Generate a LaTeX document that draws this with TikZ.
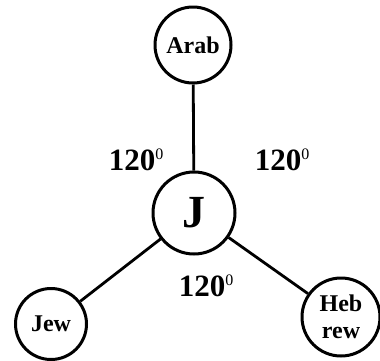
\documentclass[tikz,border=0pt]{standalone}
\usepackage{fontspec}
\setmainfont{Liberation Serif}
\newcommand{\degz}{\raisebox{11pt}{\fontsize{16}{16}\selectfont\mdseries 0}}
\begin{document}
\begin{tikzpicture}[x=1pt,y=-1pt,
  bub/.style={draw,circle,line width=3pt,fill=white,inner sep=0pt,font=\bfseries},
  link/.style={line width=2.8pt},
  ang/.style={font=\fontsize{31}{31}\selectfont\bfseries}]
\useasboundingbox (0,0) rectangle (380,360);
\node[bub,minimum size=76pt,font=\fontsize{24}{24}\selectfont\bfseries] (arab) at (193,45) {Arab};
\node[bub,minimum size=82pt,font=\fontsize{46}{46}\selectfont\bfseries] (j) at (194,213) {J};
\node[bub,minimum size=71pt,font=\fontsize{24}{24}\selectfont\bfseries] (jew) at (51,324) {Jew};
\node[bub,minimum size=78pt,align=center,font=\fontsize{24}{27}\selectfont\bfseries] (heb) at (341,317) {Heb\\rew};
\draw[link] (j) -- (arab);
\draw[link] (j) -- (jew);
\draw[link] (j) -- (heb);
\node[ang] (a1) at (136,160) {120\degz};
\node[ang] (a2) at (282,160) {120\degz};
\node[ang] (a3) at (206,286) {120\degz};
\end{tikzpicture}
\end{document}
